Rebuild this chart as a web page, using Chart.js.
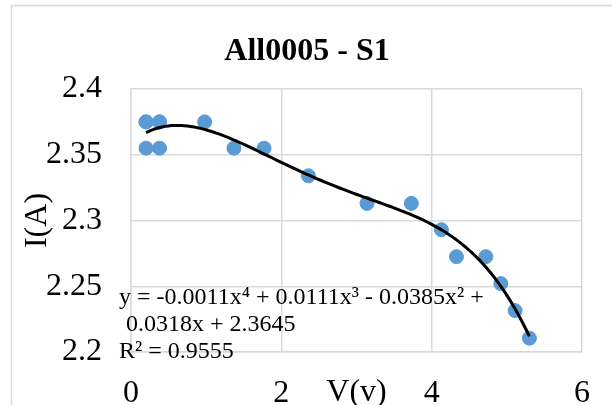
<!DOCTYPE html>
<html>
<head>
<meta charset="utf-8">
<script src="https://cdn.jsdelivr.net/npm/chart.js@4.4.1/dist/chart.umd.min.js"></script>
<style>
  html, body { margin: 0; padding: 0; background: #fff; }
  #wrap { width: 612px; height: 405px; position: relative; }
</style>
</head>
<body>
<div id="wrap"><canvas id="chart" width="612" height="405"></canvas></div>
<script>
// measured points (V, I); the first two readings are repeated (overlapping dots)
const voltage = [0.2, 0.2, 0.38, 0.38, 0.2, 0.38, 0.98, 1.37, 1.77, 2.36, 3.14, 3.73, 4.13, 4.33, 4.72, 4.92, 5.11, 5.30];
const current = [2.375, 2.375, 2.375, 2.375, 2.355, 2.355, 2.375, 2.355, 2.355, 2.334, 2.313, 2.313, 2.293, 2.2725, 2.2725, 2.252, 2.2315, 2.2105];
const xTicks = ['0', '2', '4', '6'];
const yTicks = ['2.2', '2.25', '2.3', '2.35', '2.4'];
const chartTitle = 'All0005 - S1';
const equationLines = ['y = -0.0011x\u2074 + 0.0111x\u00b3 - 0.0385x\u00b2 +', ' 0.0318x + 2.3645', 'R\u00b2 = 0.9555'];

const serif = "'Liberation Serif', 'Times New Roman', serif";

// 4th order least squares fit, like the spreadsheet trendline
function polyFit(xs, ys, deg) {
    const n = deg + 1;
    const A = [];
    for (let r = 0; r < n; r++) {
        A.push([]);
        for (let c = 0; c < n; c++) {
            A[r].push(xs.reduce((s, x) => s + Math.pow(x, r + c), 0));
        }
        A[r].push(xs.reduce((s, x, i) => s + ys[i] * Math.pow(x, r), 0));
    }
    for (let i = 0; i < n; i++) {
        let p = i;
        for (let k = i + 1; k < n; k++) if (Math.abs(A[k][i]) > Math.abs(A[p][i])) p = k;
        [A[i], A[p]] = [A[p], A[i]];
        for (let k = i + 1; k < n; k++) {
            const f = A[k][i] / A[i][i];
            for (let c = i; c <= n; c++) A[k][c] -= f * A[i][c];
        }
    }
    const coef = new Array(n).fill(0);
    for (let i = n - 1; i >= 0; i--) {
        let s = A[i][n];
        for (let c = i + 1; c < n; c++) s -= A[i][c] * coef[c];
        coef[i] = s / A[i][i];
    }
    return coef;
}

const coef = polyFit(voltage, current, 4);
const xMin = Math.min(...voltage), xMax = Math.max(...voltage);
const trend = [];
for (let i = 0; i <= 120; i++) {
    const x = xMin + (xMax - xMin) * i / 120;
    trend.push({ x: x, y: coef.reduce((s, c, k) => s + c * Math.pow(x, k), 0) });
}

// outer chart border + title centred on the whole picture
const frame = {
    id: 'frame',
    beforeDraw(chart) {
        const ctx = chart.ctx;
        ctx.save();
        ctx.strokeStyle = '#d9d9d9';
        ctx.lineWidth = 1.5;
        ctx.strokeRect(11.5, 5.5, 700, 500);
        ctx.fillStyle = '#000';
        ctx.font = 'bold 32px ' + serif;
        ctx.textAlign = 'center';
        ctx.textBaseline = 'middle';
        ctx.fillText(chartTitle, 307, 52);
        ctx.restore();
    }
};

const equation = {
    id: 'equation',
    afterDraw(chart) {
        const ctx = chart.ctx;
        ctx.save();
        ctx.fillStyle = '#000';
        ctx.font = '24px ' + serif;
        ctx.textBaseline = 'middle';
        ctx.fillText(equationLines[0], 119, 298);
        ctx.fillText(equationLines[1], 120, 325);
        ctx.fillText(equationLines[2], 119, 352);
        ctx.restore();
    }
};

new Chart(document.getElementById('chart'), {
    type: 'scatter',
    data: {
        datasets: [
            {
                label: 'S1',
                data: voltage.map((v, i) => ({ x: v, y: current[i] })),
                backgroundColor: '#5b9bd5',
                borderColor: '#5b9bd5',
                pointRadius: 7,
                order: 2
            },
            {
                label: 'trend',
                data: trend,
                showLine: true,
                borderColor: '#000',
                borderWidth: 3,
                pointRadius: 0,
                tension: 0,
                order: 1
            }
        ]
    },
    options: {
        responsive: false,
        animation: false,
        layout: { padding: { left: 0, right: 27, top: 89, bottom: 0 } },
        plugins: {
            legend: { display: false },
            tooltip: { enabled: false },
            title: { display: false }
        },
        scales: {
            x: {
                min: 0, max: 6,
                ticks: {
                    stepSize: 2,
                    color: '#000',
                    padding: 22,
                    font: { family: serif, size: 32 },
                    callback: (v, i) => xTicks[i]
                },
                grid: { color: '#d9d9d9', lineWidth: 1.5, drawTicks: false },
                border: { color: '#d9d9d9', width: 1.5 },
                title: {
                    display: true,
                    text: 'V(v)',
                    color: '#000',
                    font: { family: serif, size: 32 },
                    padding: { top: 0, bottom: -7 }
                },
                afterFit: s => { s.height = 53; }
            },
            y: {
                min: 2.2, max: 2.4,
                ticks: {
                    stepSize: 0.05,
                    color: '#000',
                    padding: 29,
                    font: { family: serif, size: 32 },
                    callback: (v, i) => yTicks[i]
                },
                grid: { color: '#d9d9d9', lineWidth: 1.5, drawTicks: false },
                border: { color: '#d9d9d9', width: 1.5 },
                title: {
                    display: true,
                    text: 'I(A)',
                    color: '#000',
                    font: { family: serif, size: 32 },
                    padding: { top: 18, bottom: 0 }
                },
                afterFit: s => { s.width = 131; }
            }
        }
    },
    plugins: [frame, equation]
});
</script>
</body>
</html>
